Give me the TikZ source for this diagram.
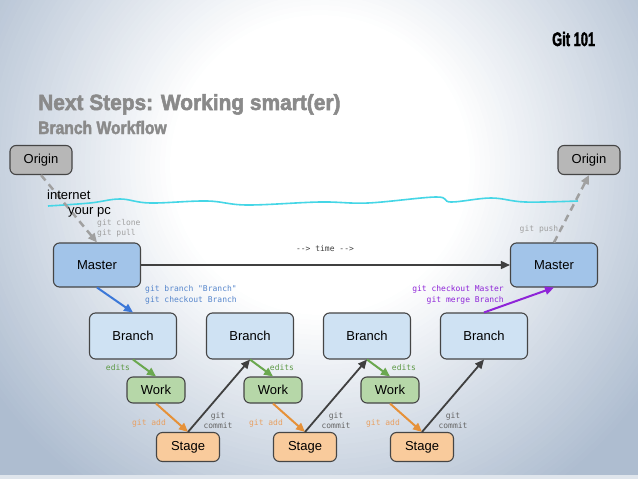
\documentclass[tikz,border=0pt]{standalone}
\usepackage{fontspec}
\setmainfont{Liberation Sans}
\newfontfamily\monof{DejaVu Sans Mono}
\newfontfamily\headf[FakeBold=2.4]{Liberation Sans Bold}
\usetikzlibrary{arrows.meta}
\definecolor{bgedge}{HTML}{AEBDD0}
\definecolor{boxline}{HTML}{454545}
\definecolor{origc}{HTML}{B7B7B7}
\definecolor{mastc}{HTML}{A2C4E9}
\definecolor{branc}{HTML}{CFE2F3}
\definecolor{workc}{HTML}{B6D7A8}
\definecolor{stagec}{HTML}{F9CB9C}
\definecolor{dashg}{HTML}{A0A0A0}
\definecolor{darkl}{HTML}{404040}
\definecolor{bluea}{HTML}{3C78D8}
\definecolor{bluet}{HTML}{5686CC}
\definecolor{purp}{HTML}{8E24D8}
\definecolor{greena}{HTML}{6AA84F}
\definecolor{greent}{HTML}{5E9A46}
\definecolor{orangea}{HTML}{E69138}
\definecolor{oranget}{HTML}{E8A062}
\definecolor{wavec}{HTML}{45D6E6}
\definecolor{titleg}{HTML}{8A8A8A}
\begin{document}
\begin{tikzpicture}[x=1pt,y=-1pt,
  box/.style={draw=boxline, line width=1.1pt, rounded corners=6pt, inner sep=0pt, font=\fontsize{13}{15}\selectfont},
  originbox/.style={box, fill=origc, minimum width=62pt, minimum height=29pt},
  masterbox/.style={box, fill=mastc, minimum width=87pt, minimum height=44pt},
  branchbox/.style={box, fill=branc, minimum width=87pt, minimum height=46pt},
  workbox/.style={box, fill=workc, minimum width=58pt, minimum height=26pt},
  stagebox/.style={box, fill=stagec, minimum width=63pt, minimum height=29pt},
  lbl/.style={font=\monof\fontsize{8}{10.5}\selectfont, inner sep=0pt},
  arr/.style={-{Triangle[length=9pt,width=8pt]}, line width=2pt},
  dasharr/.style={arr, draw=dashg, color=dashg, line width=2.5pt, dash pattern=on 7pt off 5pt},
  plain/.style={font=\fontsize{13}{15}\selectfont, inner sep=0pt}
]
\useasboundingbox (0,0) rectangle (638,479);
\fill[bgedge] (0,0) rectangle (638,479);
\begin{scope}
\clip (0,0) rectangle (638,479);
\foreach \i in {0,...,50}{
  \pgfmathsetmacro\rr{400-5*\i}
  \pgfmathsetmacro\pp{100*\i/50}
  \fill[white!\pp!bgedge] (320,165) circle[radius=\rr pt];
}
\end{scope}
\fill[color=white!60!bgedge] (0,475) rectangle (638,479);

% headings
\node[anchor=base west, inner sep=0pt, text=black] (git101) at (552,46) {\scalebox{0.66}[1]{\headf\fontsize{19.5}{22}\selectfont Git 101}};
\node[anchor=base west, inner sep=0pt, text=titleg] (title) at (38,110) {\scalebox{0.95}[1]{\headf\fontsize{22}{26}\selectfont Next Steps: Working smart(er)}};
\node[anchor=base west, inner sep=0pt, text=titleg] (subtitle) at (38,134) {\scalebox{0.87}[1]{\headf\fontsize{18}{22}\selectfont Branch Workflow}};

% wave
\draw[wavec, line width=1.6pt] plot[smooth, tension=0.6] coordinates {(48,206) (90,203) (120,199) (150,203) (207,201) (247,205) (320,202) (368,203) (436,197) (451,202) (491,198) (525,202) (578,201)};

% nodes
\node[originbox] (o1) at (41,160) {Origin};
\node[originbox] (o2) at (589,160) {Origin};
\node[masterbox] (m1) at (97,265) {Master};
\node[masterbox] (m2) at (554,265) {Master};
\node[branchbox] (b1) at (133,336) {Branch};
\node[branchbox] (b2) at (250,336) {Branch};
\node[branchbox] (b3) at (367,336) {Branch};
\node[branchbox] (b4) at (484,336) {Branch};
\node[workbox] (w1) at (156,390) {Work};
\node[workbox] (w2) at (273,390) {Work};
\node[workbox] (w3) at (390,390) {Work};
\node[stagebox] (s1) at (188,447) {Stage};
\node[stagebox] (s2) at (305,447) {Stage};
\node[stagebox] (s3) at (422,447) {Stage};

% internet / your pc
\draw[dasharr] (o1.south) -- (m1.north);
\draw[dasharr] (m2.north) -- (o2.south);
\node[plain, anchor=base west] (inet) at (47,199) {internet};
\node[plain, anchor=base west] (ypc) at (68,214) {your pc};

% connectors
\draw[arr, darkl, line width=1.5pt] (m1.east) -- (m2.west);
\draw[arr, bluea] (m1.south) -- (b1.north);
\draw[arr, purp] (b4.north) -- (m2.south);
\draw[arr, greena] (b1.south) -- (w1.north);
\draw[arr, greena] (b2.south) -- (w2.north);
\draw[arr, greena] (b3.south) -- (w3.north);
\draw[arr, orangea] (w1.south) -- (s1.north);
\draw[arr, orangea] (w2.south) -- (s2.north);
\draw[arr, orangea] (w3.south) -- (s3.north);
\draw[arr, darkl, line width=1.8pt] (s1.north) -- (b2.south);
\draw[arr, darkl, line width=1.8pt] (s2.north) -- (b3.south);
\draw[arr, darkl, line width=1.8pt] (s3.north) -- (b4.south);

% labels
\node[lbl, text=dashg, anchor=west] (lclone) at (97,223) {git clone};
\node[lbl, text=dashg, anchor=west] (lpull) at (97,233) {git pull};
\node[lbl, text=dashg] (lpush) at (539,229) {git push};
\node[lbl, text=darkl] (ltime) at (325,249) {--> time -->};
\node[lbl, text=bluet, anchor=west] (lbr1) at (145,289) {git branch "Branch"};
\node[lbl, text=bluet, anchor=west] (lbr2) at (145,300) {git checkout Branch};
\node[lbl, text=purp, anchor=east] (lmg1) at (504,289) {git checkout Master};
\node[lbl, text=purp, anchor=east] (lmg2) at (504,300) {git merge Branch};
\node[lbl, text=greent] (le1) at (118,368) {edits};
\node[lbl, text=greent] (le2) at (282,368) {edits};
\node[lbl, text=greent] (le3) at (404,368) {edits};
\node[lbl, text=oranget] (la1) at (149,423) {git add};
\node[lbl, text=oranget] (la2) at (266,423) {git add};
\node[lbl, text=oranget] (la3) at (383,423) {git add};
\node[lbl, text=darkl!80, align=center] (lc1) at (218,420.5) {git\\commit};
\node[lbl, text=darkl!80, align=center] (lc2) at (336,420.5) {git\\commit};
\node[lbl, text=darkl!80, align=center] (lc3) at (453,420.5) {git\\commit};
\end{tikzpicture}
\end{document}
